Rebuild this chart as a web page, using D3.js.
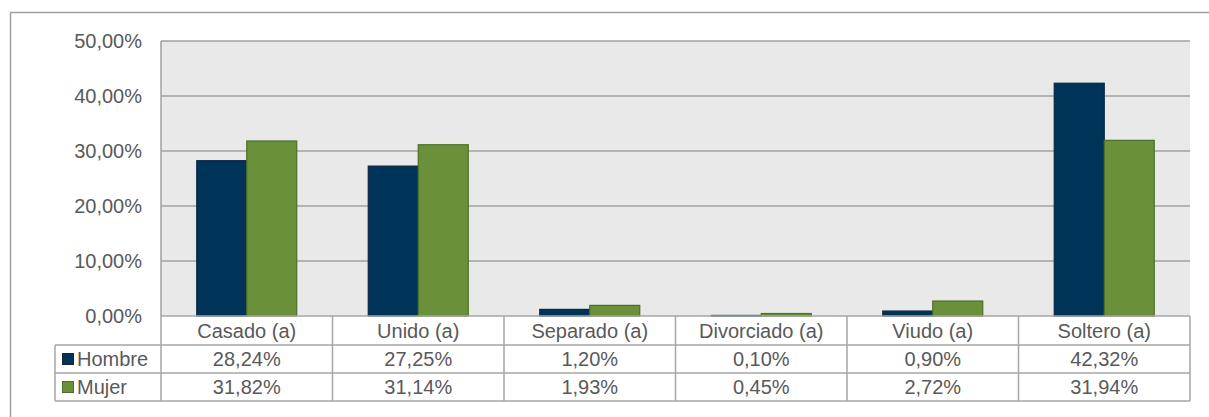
<!DOCTYPE html>
<html>
<head>
<meta charset="utf-8">
<script src="https://cdn.jsdelivr.net/npm/d3@7"></script>
<style>
    html, body { margin: 0; background: #fff; overflow: hidden; }
    text { font-family: 'Liberation Sans', Arial, sans-serif; fill: #595959; }
</style>
</head>
<body>
<div id="chart"></div>
<script>
const categories = ['Casado (a)', 'Unido (a)', 'Separado (a)', 'Divorciado (a)', 'Viudo (a)', 'Soltero (a)'];
const seriesNames = ['Hombre', 'Mujer'];
const hombreValues = [28.24, 27.25, 1.20, 0.10, 0.90, 42.32];
const mujerValues = [31.82, 31.14, 1.93, 0.45, 2.72, 31.94];
const yTicks = [0, 10, 20, 30, 40, 50];

class TableBarChart {
    constructor(_config) {
        this.config = {
            parentElement: _config.parentElement,
            containerWidth: 1209,
            containerHeight: 417,
            margin: { top: 41, right: 19, left: 161 },
            plotBottom: 316,
            rowHeight: 28,
            headerHeight: 29,
            tableLeft: 55
        };
        this.colors = { Hombre: '#003358', Mujer: '#6a9139' };
        this.strokes = { Hombre: '#0b2742', Mujer: '#4d6e28' };
        this.initVis();
    }

    initVis() {
        const vis = this;
        const c = vis.config;

        vis.svg = d3.select(c.parentElement)
            .append('svg')
            .attr('width', c.containerWidth)
            .attr('height', c.containerHeight)
            .style('display', 'block');

        // outer chart border, only top and left edges are inside the picture
        vis.svg.append('path')
            .attr('d', `M10.5,${c.containerHeight}V12.5H${c.containerWidth}`)
            .attr('fill', 'none')
            .attr('stroke', '#a0a0a0')
            .attr('stroke-width', 1.5);

        vis.x0 = d3.scaleBand()
            .domain(categories)
            .range([c.margin.left, c.containerWidth - c.margin.right]);

        const step = vis.x0.bandwidth();
        vis.x1 = d3.scaleBand()
            .domain(seriesNames)
            .range([step * 0.2085, step * (1 - 0.2085)]);

        vis.y = d3.scaleLinear()
            .domain([0, 50])
            .range([c.plotBottom, c.margin.top]);

        vis.renderVis();
    }

    renderVis() {
        const vis = this;
        const c = vis.config;
        const plotRight = c.containerWidth - c.margin.right;

        // plot background
        vis.svg.append('rect')
            .attr('x', c.margin.left).attr('y', c.margin.top)
            .attr('width', plotRight - c.margin.left)
            .attr('height', c.plotBottom - c.margin.top)
            .attr('fill', '#e8e9e8');

        // gridlines
        vis.svg.selectAll('.grid')
            .data(yTicks.filter(d => d > 0))
            .join('line')
            .attr('class', 'grid')
            .attr('x1', c.margin.left).attr('x2', plotRight)
            .attr('y1', d => vis.y(d)).attr('y2', d => vis.y(d))
            .attr('stroke', '#a0a0a0')
            .attr('stroke-width', 1.5);

        vis.svg.append('line')
            .attr('x1', c.margin.left).attr('x2', c.margin.left)
            .attr('y1', c.margin.top).attr('y2', c.plotBottom)
            .attr('stroke', '#a0a0a0')
            .attr('stroke-width', 1.5);

        // y labels
        vis.svg.selectAll('.y-label')
            .data(yTicks)
            .join('text')
            .attr('class', 'y-label')
            .attr('x', 142)
            .attr('y', d => vis.y(d))
            .attr('dy', '0.35em')
            .attr('text-anchor', 'end')
            .style('font-size', '20px')
            .text(d => d3.format('.2f')(d).replace('.', ',') + '%');

        // bars
        const rows = categories.map((cat, i) => ({
            cat: cat,
            values: [
                { key: 'Hombre', value: hombreValues[i] },
                { key: 'Mujer', value: mujerValues[i] }
            ]
        }));

        vis.svg.selectAll('.group')
            .data(rows)
            .join('g')
            .attr('class', 'group')
            .attr('transform', d => `translate(${vis.x0(d.cat)},0)`)
            .selectAll('rect')
            .data(d => d.values)
            .join('rect')
            .attr('x', d => vis.x1(d.key))
            .attr('y', d => vis.y(d.value))
            .attr('width', vis.x1.bandwidth())
            .attr('height', d => vis.y(0) - vis.y(d.value))
            .attr('fill', d => vis.colors[d.key])
            .attr('stroke', d => vis.strokes[d.key])
            .attr('stroke-width', 1.2);

        // data table
        const lineColor = '#a6a6a6';
        const headerTop = c.plotBottom;
        const row1Top = headerTop + c.headerHeight;
        const row2Top = row1Top + c.rowHeight;
        const tableBottom = row2Top + c.rowHeight;

        const table = vis.svg.append('g').attr('class', 'data-table');

        const hLines = [
            { x1: c.margin.left, y: headerTop },
            { x1: c.tableLeft, y: row1Top },
            { x1: c.tableLeft, y: row2Top },
            { x1: c.tableLeft, y: tableBottom }
        ];
        table.selectAll('.h-line')
            .data(hLines)
            .join('line')
            .attr('x1', d => d.x1).attr('x2', plotRight)
            .attr('y1', d => d.y).attr('y2', d => d.y)
            .attr('stroke', lineColor)
            .attr('stroke-width', 1.5);

        const vxs = categories.map(cat => vis.x0(cat)).concat([plotRight]);
        table.selectAll('.v-line')
            .data(vxs)
            .join('line')
            .attr('x1', d => d).attr('x2', d => d)
            .attr('y1', headerTop).attr('y2', tableBottom)
            .attr('stroke', lineColor)
            .attr('stroke-width', 1.5);

        table.append('line')
            .attr('x1', c.tableLeft).attr('x2', c.tableLeft)
            .attr('y1', row1Top).attr('y2', tableBottom)
            .attr('stroke', lineColor)
            .attr('stroke-width', 1.5);

        // category header
        table.selectAll('.cat-label')
            .data(categories)
            .join('text')
            .attr('class', 'cat-label')
            .attr('x', d => vis.x0(d) + vis.x0.bandwidth() / 2)
            .attr('y', headerTop + c.headerHeight / 2)
            .attr('dy', '0.35em')
            .attr('text-anchor', 'middle')
            .style('font-size', '20px')
            .text(d => d);

        const fmt = v => d3.format('.2f')(v).replace('.', ',') + '%';
        const seriesRows = [
            { key: 'Hombre', values: hombreValues, top: row1Top },
            { key: 'Mujer', values: mujerValues, top: row2Top }
        ];

        seriesRows.forEach(s => {
            const cy = s.top + c.rowHeight / 2;
            table.append('rect')
                .attr('x', 62.5).attr('y', cy - 5.5)
                .attr('width', 11).attr('height', 11)
                .attr('fill', vis.colors[s.key])
                .attr('stroke', vis.strokes[s.key])
                .attr('stroke-width', 1);
            table.append('text')
                .attr('x', 77)
                .attr('y', cy)
                .attr('dy', '0.35em')
                .style('font-size', '20px')
                .text(s.key);
            table.selectAll(null)
                .data(s.values)
                .join('text')
                .attr('x', (d, i) => vis.x0(categories[i]) + vis.x0.bandwidth() / 2)
                .attr('y', cy)
                .attr('dy', '0.35em')
                .attr('text-anchor', 'middle')
                .style('font-size', '20px')
                .text(d => fmt(d));
        });
    }
}

new TableBarChart({ parentElement: '#chart' });
</script>
</body>
</html>
